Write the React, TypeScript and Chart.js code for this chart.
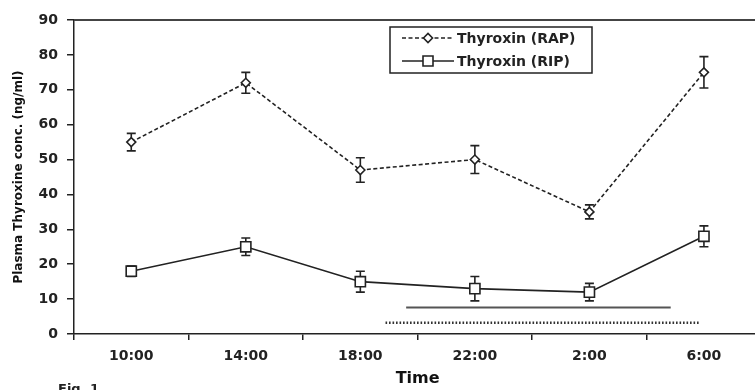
import React, { useEffect, useRef } from "react";
import { Chart, registerables } from "chart.js";

Chart.register(...registerables);

// Sampling times (categories on the x axis)
const timeLabels = ["10:00", "14:00", "18:00", "22:00", "2:00", "6:00"];

// Plasma thyroxine, ng/ml, with standard errors
const rapLabel = "Thyroxin (RAP)";
const rapValues = [55, 72, 47, 50, 35, 75];
const rapErrors = [2.5, 3, 3.5, 4, 2, 4.5];

const ripLabel = "Thyroxin (RIP)";
const ripValues = [18, 25, 15, 13, 12, 28];
const ripErrors = [1.5, 2.5, 3, 3.5, 2.5, 3];

// Dark-phase bars under the curves (positions in category units)
const ripDarkSpan = [2.4, 4.71];
const ripDarkLevel = 7.6;
const rapDarkSpan = [2.22, 4.97];
const rapDarkLevel = 3.2;

// Y axis range
const yMin = 0;
const yMax = 90;
const yStep = 10;

const INK = "#222";
const FONT = "'DejaVu Sans', 'Liberation Sans', Arial, sans-serif";
const RAP_DASH = [4, 2.5];

type Marker = "diamond" | "square";

function drawMarker(ctx: CanvasRenderingContext2D, kind: Marker, x: number, y: number) {
  ctx.beginPath();
  if (kind === "diamond") {
    const r = 4.5;
    ctx.moveTo(x - r, y);
    ctx.lineTo(x, y - r);
    ctx.lineTo(x + r, y);
    ctx.lineTo(x, y + r);
    ctx.closePath();
  } else {
    const s = 5;
    ctx.rect(x - s, y - s, 2 * s, 2 * s);
  }
  ctx.fillStyle = "#fff";
  ctx.fill();
  ctx.lineWidth = 1.6;
  ctx.strokeStyle = INK;
  ctx.stroke();
}

// Vertical error bars with caps, drawn beneath the markers
const errorBarPlugin = {
  id: "errorBars",
  beforeDatasetsDraw(chart: any) {
    const { ctx } = chart;
    const xs = chart.scales.x;
    const ys = chart.scales.y;
    const sets = [
      { values: rapValues, errors: rapErrors },
      { values: ripValues, errors: ripErrors },
    ];
    ctx.save();
    ctx.strokeStyle = INK;
    ctx.lineWidth = 1.6;
    ctx.setLineDash([]);
    sets.forEach(({ values, errors }) => {
      values.forEach((v, i) => {
        const px = xs.getPixelForValue(i);
        const top = ys.getPixelForValue(v + errors[i]);
        const bot = ys.getPixelForValue(v - errors[i]);
        const cap = 4.5;
        ctx.beginPath();
        ctx.moveTo(px, top);
        ctx.lineTo(px, bot);
        ctx.moveTo(px - cap, top);
        ctx.lineTo(px + cap, top);
        ctx.moveTo(px - cap, bot);
        ctx.lineTo(px + cap, bot);
        ctx.stroke();
      });
    });
    ctx.restore();
  },
};

// Frame line along the top, boxed legend and figure caption
const framePlugin = {
  id: "frameAndLegend",
  afterDraw(chart: any) {
    const { ctx, chartArea } = chart;
    const { left, top, right } = chartArea;
    ctx.save();

    ctx.strokeStyle = "#444";
    ctx.lineWidth = 2;
    ctx.beginPath();
    ctx.moveTo(left, top);
    ctx.lineTo(right + 10, top);
    ctx.stroke();

    const bx = left + 316;
    const by = top + 7;
    const bw = 202;
    const bh = 46;
    ctx.fillStyle = "#fff";
    ctx.fillRect(bx, by, bw, bh);
    ctx.strokeStyle = INK;
    ctx.lineWidth = 1.5;
    ctx.strokeRect(bx, by, bw, bh);

    const entries: { label: string; dash: number[]; marker: Marker }[] = [
      { label: rapLabel, dash: RAP_DASH, marker: "diamond" },
      { label: ripLabel, dash: [], marker: "square" },
    ];
    entries.forEach((e, i) => {
      const y = by + 11 + i * 23;
      ctx.strokeStyle = INK;
      ctx.lineWidth = 1.6;
      ctx.setLineDash(e.dash);
      ctx.beginPath();
      ctx.moveTo(bx + 12, y);
      ctx.lineTo(bx + 64, y);
      ctx.stroke();
      ctx.setLineDash([]);
      drawMarker(ctx, e.marker, bx + 38, y);
      ctx.fillStyle = INK;
      ctx.font = `bold 14px ${FONT}`;
      ctx.textBaseline = "middle";
      ctx.textAlign = "left";
      ctx.fillText(e.label, bx + 67, y + 1);
    });

    ctx.fillStyle = INK;
    ctx.font = `bold 13px ${FONT}`;
    ctx.textBaseline = "alphabetic";
    ctx.fillText("Fig. 1", 58, 393);
    ctx.restore();
  },
};

export default function App() {
  const canvasRef = useRef<HTMLCanvasElement | null>(null);

  useEffect(() => {
    const canvas = canvasRef.current;
    if (!canvas) return;

    const chart = new Chart(canvas, {
      type: "line",
      data: {
        labels: timeLabels,
        datasets: [
          {
            label: rapLabel,
            data: rapValues,
            xAxisID: "x",
            borderColor: INK,
            borderWidth: 1.6,
            borderDash: RAP_DASH,
            pointStyle: "rectRot",
            pointRadius: 4.5,
            pointBorderWidth: 1.6,
            pointBackgroundColor: "#fff",
            pointBorderColor: INK,
            tension: 0,
          },
          {
            label: ripLabel,
            data: ripValues,
            xAxisID: "x",
            borderColor: INK,
            borderWidth: 1.6,
            pointStyle: "rect",
            pointRadius: 7.2,
            pointBorderWidth: 1.6,
            pointBackgroundColor: "#fff",
            pointBorderColor: INK,
            tension: 0,
          },
          {
            label: "RIP dark phase",
            data: ripDarkSpan.map((x) => ({ x, y: ripDarkLevel })),
            xAxisID: "xr",
            borderColor: "#555",
            borderWidth: 2,
            pointRadius: 0,
          },
          {
            label: "RAP dark phase",
            data: rapDarkSpan.map((x) => ({ x, y: rapDarkLevel })),
            xAxisID: "xr",
            borderColor: "#333",
            borderWidth: 2.5,
            borderDash: [1.6, 1.9],
            pointRadius: 0,
          },
        ],
      },
      options: {
        responsive: false,
        animation: false,
        layout: { padding: { top: 20, right: 5, left: 0, bottom: 0 } },
        plugins: {
          legend: { display: false },
          tooltip: { enabled: false },
        },
        scales: {
          x: {
            type: "category",
            offset: true,
            grid: {
              offset: true,
              drawOnChartArea: false,
              drawTicks: true,
              tickLength: 6,
              color: INK,
              lineWidth: 1.5,
            },
            border: { display: true, color: INK, width: 1.5 },
            ticks: {
              color: INK,
              font: { family: FONT, size: 14, weight: "bold" },
              padding: 8,
              maxRotation: 0,
            },
            title: {
              display: true,
              text: "Time",
              color: "#111",
              font: { family: FONT, size: 16, weight: "bold" },
              padding: { top: 0, bottom: 2 },
            },
            afterFit: (scale: any) => {
              scale.height = 56;
            },
          },
          xr: {
            type: "linear",
            display: false,
            min: -0.5,
            max: timeLabels.length - 0.5,
          },
          y: {
            min: yMin,
            max: yMax,
            ticks: {
              stepSize: yStep,
              color: INK,
              font: { family: FONT, size: 14, weight: "bold" },
              padding: 9,
            },
            grid: {
              drawOnChartArea: false,
              drawTicks: true,
              tickLength: 7,
              color: INK,
              lineWidth: 1.5,
            },
            border: { display: true, color: INK, width: 1.5 },
            title: {
              display: true,
              text: "Plasma Thyroxine conc. (ng/ml)",
              color: "#111",
              font: { family: FONT, size: 12, weight: "bold" },
              padding: { top: 12, bottom: 0 },
            },
            afterFit: (scale: any) => {
              scale.width = 74;
            },
          },
        },
      },
      plugins: [errorBarPlugin, framePlugin],
    });

    return () => chart.destroy();
  }, []);

  return (
    <div
      style={{
        position: "fixed",
        left: 0,
        top: 0,
        width: 755,
        height: 390,
        overflow: "hidden",
        background: "#fff",
      }}
    >
      <canvas ref={canvasRef} width={770} height={390} style={{ display: "block" }} />
    </div>
  );
}
